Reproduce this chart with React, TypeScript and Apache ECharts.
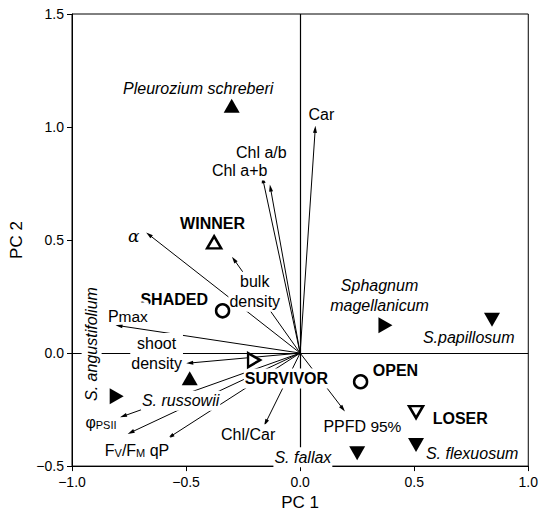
import React, { useEffect, useRef } from "react";
import * as echarts from "echarts";

// Loadings (arrow tips) of the variables on PC1/PC2
const varNames = ["Car", "Chl a+b", "Chl a/b", "alpha", "bulk density", "Pmax", "shoot density", "phiPSII", "Fv/Fm", "qP", "Chl/Car", "PPFD95%"];
const varPC1 = [0.066, -0.163, -0.13, -0.663, -0.29, -0.794, -0.484, -0.775, -0.742, -0.568, -0.151, 0.187];
const varPC2 = [0.99, 0.767, 0.73, 0.524, 0.414, 0.121, -0.044, -0.279, -0.351, -0.369, -0.308, -0.246];

// Scores of species / groups
const filledUpNames = ["Pleurozium schreberi", "S. russowii"];
const filledUpPC1 = [-0.3, -0.484];
const filledUpPC2 = [1.094, -0.111];
const filledRightNames = ["S. angustifolium", "Sphagnum magellanicum"];
const filledRightPC1 = [-0.804, 0.374];
const filledRightPC2 = [-0.191, 0.123];
const filledDownNames = ["S.papillosum", "S. flexuosum", "S. fallax"];
const filledDownPC1 = [0.841, 0.508, 0.25];
const filledDownPC2 = [0.147, -0.407, -0.443];
const openUpNames = ["WINNER"];
const openUpPC1 = [-0.377];
const openUpPC2 = [0.49];
const openRightNames = ["SURVIVOR"];
const openRightPC1 = [-0.202];
const openRightPC2 = [-0.031];
const openDownNames = ["LOSER"];
const openDownPC1 = [0.508];
const openDownPC2 = [-0.261];
const circleNames = ["SHADED", "OPEN"];
const circlePC1 = [-0.34, 0.265];
const circlePC2 = [0.187, -0.127];

// Text labels: text, style kind, position in PC coordinates
const labelTexts = [
  "Pleurozium schreberi", "Car", "Chl a/b", "Chl a+b", "WINNER", "{al|α}", "bulk\ndensity", "SHADED",
  "{n|P}{lo|max}", "shoot\ndensity", "SURVIVOR", "S. russowii", "S. angustifolium", "{n|φ}{sub|PSII}",
  "{n|F}{sub|V}{n|/F}{sub|M}{n| qP}", "Chl/Car", "S. fallax", "{n|PPFD}{lo| 95%}", "OPEN", "LOSER",
  "S. flexuosum", "Sphagnum\nmagellanicum", "S.papillosum",
];
const labelKinds = [
  "i", "n", "n", "n", "b", "n", "n", "b",
  "n", "n", "b", "i", "v", "n",
  "n", "n", "i", "n", "b", "b",
  "i", "i", "i",
];
const labelPC1 = [-0.447, 0.093, -0.17, -0.265, -0.384, -0.729, -0.199, -0.552, -0.755, -0.629, -0.06, -0.524, -0.914, -0.873, -0.715, -0.228, 0.012, 0.273, 0.418, 0.702, 0.754, 0.348, 0.739];
const labelPC2 = [1.171, 1.055, 0.888, 0.808, 0.573, 0.519, 0.271, 0.238, 0.175, 0.0, -0.112, -0.211, 0.04, -0.293, -0.418, -0.359, -0.461, -0.31, -0.079, -0.288, -0.443, 0.254, 0.07];

const xTicks = [-1, -0.5, 0, 0.5, 1];
const yTicks = [-0.5, 0, 0.5, 1, 1.5];

const FONT = "'Liberation Sans', Arial, Helvetica, sans-serif";

export default function App() {
  const ref = useRef<HTMLDivElement>(null);
  useEffect(() => {
    if (!ref.current) return;
    const chart = echarts.init(ref.current, undefined, { renderer: "svg" });
    const fmt = (v: number) => v.toFixed(1).replace("-", "\u2212");
    const pts = (a: number[], b: number[], n: string[]) => a.map((x, i) => ({ name: n[i], value: [x, b[i]] }));

    const rich = {
      n: { fontSize: 16, fontFamily: FONT, color: "#000", lineHeight: 22, verticalAlign: "bottom" },
      lo: { fontSize: 15.5, fontFamily: FONT, color: "#000", lineHeight: 16, padding: [6, 0, 0, 0], verticalAlign: "bottom" },
      sub: { fontSize: 11, fontFamily: FONT, color: "#000", lineHeight: 12, padding: [8, 0, 0, 0], verticalAlign: "bottom" },
      al: { fontSize: 17, fontFamily: "'DejaVu Serif', 'Liberation Serif', serif", fontStyle: "italic", color: "#000" },
    };

    const labelData = labelTexts.map((t, i) => {
      const k = labelKinds[i];
      return {
        value: [labelPC1[i], labelPC2[i]],
        label: {
          show: true,
          position: "inside",
          formatter: t,
          fontSize: 16,
          fontFamily: FONT,
          fontStyle: k === "i" || k === "v" ? "italic" : "normal",
          fontWeight: k === "b" ? "bold" : "normal",
          rotate: k === "v" ? 90 : 0,
          color: "#000",
          opacity: 1,
          lineHeight: 20,
          align: "center",
          verticalAlign: "middle",
          backgroundColor: "#fff",
          padding: [0, 1],
          rich,
        },
      };
    });

    const triSize = [16, 14];
    const filled = { color: "#000", opacity: 1 };
    const open = { color: "#fff", borderColor: "#000", borderWidth: 2.5, opacity: 1 };
    chart.setOption({
      animation: false,
      grid: { left: 72, top: 14, width: 457, height: 457, show: true, borderColor: "#000", borderWidth: 1, backgroundColor: "transparent" },
      xAxis: {
        type: "value", min: xTicks[0], max: xTicks[xTicks.length - 1], interval: 0.5,
        name: "PC 1", nameLocation: "middle", nameGap: 26,
        nameTextStyle: { fontSize: 17, fontFamily: FONT, color: "#000" },
        axisLine: { show: true, onZero: false, lineStyle: { color: "#000", width: 1 } },
        axisTick: { show: true, inside: false, length: 5, lineStyle: { color: "#000" } },
        axisLabel: { formatter: fmt, fontSize: 14, fontFamily: FONT, color: "#000", margin: 9 },
        splitLine: { show: false },
      },
      yAxis: {
        type: "value", min: yTicks[0], max: yTicks[yTicks.length - 1], interval: 0.5,
        name: "PC 2", nameLocation: "middle", nameGap: 44,
        nameTextStyle: { fontSize: 17, fontFamily: FONT, color: "#000" },
        axisLine: { show: true, onZero: false, lineStyle: { color: "#000", width: 1 } },
        axisTick: { show: true, inside: false, length: 5, lineStyle: { color: "#000" } },
        axisLabel: { formatter: fmt, fontSize: 14, fontFamily: FONT, color: "#000", margin: 8 },
        splitLine: { show: false },
      },
      series: [
        {
          type: "lines", coordinateSystem: "cartesian2d", z: 1, silent: true,
          lineStyle: { color: "#000", width: 1.2, opacity: 1 },
          symbol: "none",
          data: [
            { coords: [[xTicks[0], 0], [xTicks[xTicks.length - 1], 0]] },
            { coords: [[0, yTicks[0]], [0, yTicks[yTicks.length - 1]]] },
          ],
        },
        {
          type: "lines", coordinateSystem: "cartesian2d", z: 2, silent: true,
          lineStyle: { color: "#000", width: 1, opacity: 1 },
          symbol: ["none", "path://M0,0 L5,12 L-5,12 Z"], symbolSize: [0, [4, 7]],
          data: varPC1.map((x, i) => ({ name: varNames[i], coords: [[0, 0], [x, varPC2[i]]] })),
        },
        {
          type: "scatter", z: 3, symbolSize: 0, silent: true, itemStyle: { opacity: 1 },
          data: labelData,
        },
        { type: "scatter", z: 4, symbol: "triangle", symbolSize: triSize, itemStyle: filled, data: pts(filledUpPC1, filledUpPC2, filledUpNames) },
        { type: "scatter", z: 4, symbol: "triangle", symbolSize: triSize, symbolRotate: -90, itemStyle: filled, data: pts(filledRightPC1, filledRightPC2, filledRightNames) },
        { type: "scatter", z: 4, symbol: "triangle", symbolSize: triSize, symbolRotate: 180, itemStyle: filled, data: pts(filledDownPC1, filledDownPC2, filledDownNames) },
        { type: "scatter", z: 4, symbol: "triangle", symbolSize: [14, 12], itemStyle: open, data: pts(openUpPC1, openUpPC2, openUpNames) },
        { type: "scatter", z: 4, symbol: "triangle", symbolSize: [14, 12], symbolRotate: -90, itemStyle: open, data: pts(openRightPC1, openRightPC2, openRightNames) },
        { type: "scatter", z: 4, symbol: "triangle", symbolSize: [14, 12], symbolRotate: 180, itemStyle: open, data: pts(openDownPC1, openDownPC2, openDownNames) },
        { type: "scatter", z: 4, symbol: "circle", symbolSize: 13, itemStyle: open, data: pts(circlePC1, circlePC2, circleNames) },
      ],
    });
    return () => chart.dispose();
  }, []);
  return <div ref={ref} style={{ position: "fixed", left: 0, top: 0, width: 541, height: 516, background: "#fff" }} />;
}
